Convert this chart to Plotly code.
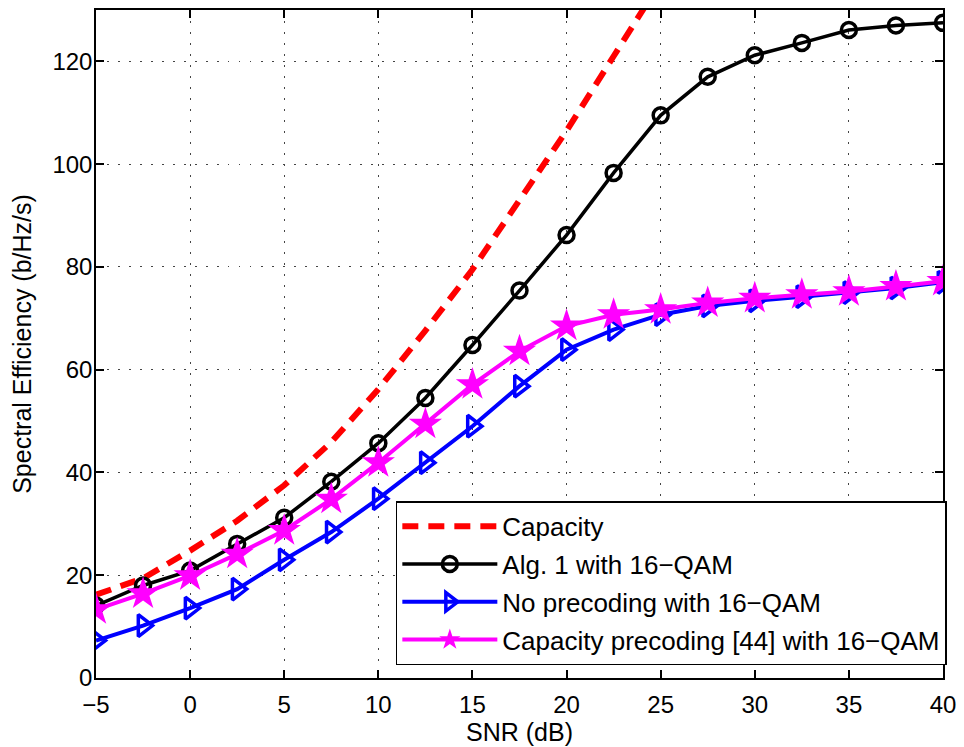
import plotly.graph_objects as go

snr = [-5, -2.5, 0, 2.5, 5, 7.5, 10, 12.5, 15, 17.5, 20, 22.5, 25, 27.5, 30, 32.5, 35, 37.5, 40]
snr_capacity = [-5, -2.5, 0, 2.5, 5, 7.5, 10, 12.5, 15, 17.5, 20, 22.5, 25]
capacity = [16.2, 19.4, 24.8, 30.6, 37.5, 45.9, 56.2, 67.6, 79.5, 92.8, 106.5, 121.0, 135.5]
alg1 = [14.1, 18.0, 20.9, 26.1, 31.2, 38.2, 45.7, 54.5, 64.8, 75.4, 86.2, 98.3, 109.5,
        117.0, 121.2, 123.6, 126.1, 127.0, 127.5]
no_precoding = [7.3, 10.2, 13.6, 17.3, 23.0, 28.4, 34.9, 41.9, 49.0, 56.8, 63.9, 67.8, 70.7,
                72.4, 73.4, 74.2, 75.0, 75.9, 77.0]
cap_precoding = [13.3, 16.4, 19.9, 24.1, 28.7, 34.8, 41.9, 49.4, 57.1, 63.6, 68.5, 70.7, 71.7,
                 73.0, 73.9, 74.6, 75.2, 76.2, 77.2]

names = ["Capacity", "Alg. 1 with 16\u2212QAM", "No precoding with 16\u2212QAM",
         "Capacity precoding [44] with 16\u2212QAM"]
x_ticks = [-5, 0, 5, 10, 15, 20, 25, 30, 35, 40]
y_ticks = [0, 20, 40, 60, 80, 100, 120]

FONT = "Liberation Sans, Arial, Helvetica, sans-serif"

fig = go.Figure()
fig.add_trace(go.Scatter(x=snr_capacity, y=capacity, mode="lines", name=names[0],
                         legendgroup="a",
                         line=dict(color="#ff0000", width=6, dash="16px,10px")))
fig.add_trace(go.Scatter(x=snr, y=alg1, mode="lines+markers", name=names[1],
                         legendgroup="b",
                         line=dict(color="black", width=3.5),
                         marker=dict(symbol="circle-open", size=15, color="black",
                                     line=dict(width=3.5, color="black"))))
fig.add_trace(go.Scatter(x=snr, y=no_precoding, mode="lines+markers", name=names[2],
                         legendgroup="c",
                         line=dict(color="#0000ff", width=4),
                         marker=dict(symbol="triangle-right-open", size=19, color="#0000ff",
                                     line=dict(width=3.5, color="#0000ff"))))
fig.add_trace(go.Scatter(x=snr, y=cap_precoding, mode="lines+markers", name=names[3],
                         legendgroup="d",
                         line=dict(color="#ff00ff", width=4),
                         marker=dict(symbol="star", size=25, color="#ff00ff",
                                     line=dict(width=0))))

axis_common = dict(showline=True, linecolor="black", linewidth=1.5, mirror="ticks",
                   ticks="inside", ticklen=8, tickwidth=1.5, tickcolor="black",
                   showgrid=True, gridcolor="#444444", gridwidth=1, griddash="1.5px,9.5px",
                   zeroline=False, tickfont=dict(family=FONT, size=24, color="black"))

fig.update_xaxes(range=[-5, 40], tickvals=x_ticks, ticklabelstandoff=4,
                 title=dict(text="SNR (dB)", font=dict(family=FONT, size=25, color="black"),
                            standoff=2),
                 **axis_common)
fig.update_yaxes(range=[0, 130], tickvals=y_ticks, ticklabelstandoff=-3,
                 title=dict(text="Spectral Efficiency (b/Hz/s)",
                            font=dict(family=FONT, size=25, color="black"), standoff=14),
                 **axis_common)

fig.update_layout(
    width=964, height=747,
    margin=dict(l=96, r=17, t=8, b=69),
    paper_bgcolor="white", plot_bgcolor="white",
    font=dict(family=FONT, color="black"),
    showlegend=True,
    legend=dict(x=0.354, y=0.019, xanchor="left", yanchor="bottom",
                bgcolor="white", bordercolor="black", borderwidth=1.5,
                font=dict(family=FONT, size=26, color="black"),
                tracegroupgap=1, itemwidth=95),
)

fig.write_html("out.html")
